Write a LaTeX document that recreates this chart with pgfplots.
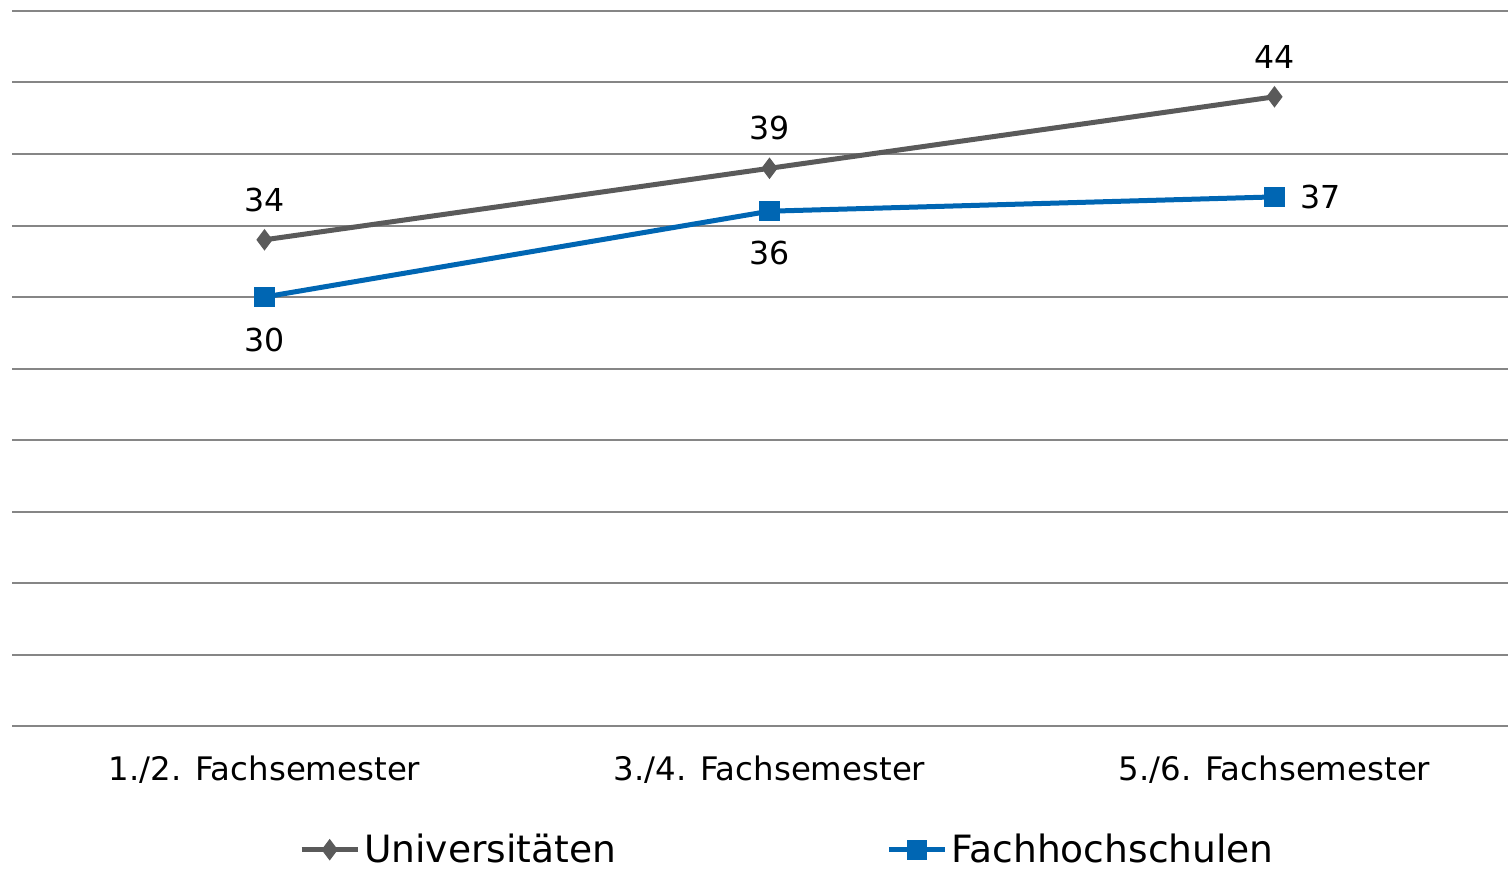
\documentclass[border=0pt]{standalone}
\usepackage{pgfplots}
\pgfplotsset{compat=1.18}
\usepackage{pgfplotstable}
\usepackage{fontspec}
\setmainfont{DejaVu Sans}
\definecolor{gridgray}{RGB}{134,134,134}
\definecolor{unigray}{RGB}{90,90,90}
\definecolor{fhblue}{RGB}{0,102,179}
\pgfplotstableread{
x y dx dy
0 34 0 20
1 39 0 20
2 44 0 20
}\uni
\pgfplotstableread{
x y dx dy
0 30 0 -21.5
1 36 0 -21
2 37 23 0
}\fh
\begin{document}
\begin{tikzpicture}
\begin{axis}[
  scale only axis,
  width=757.5pt, height=357.5pt,
  xmin=-0.5, xmax=2.5, ymin=0, ymax=50,
  axis line style={draw=none},
  xtick={0,1,2}, xticklabels={1./2. Fachsemester,3./4. Fachsemester,5./6. Fachsemester},
  extra x ticks={-0.5,0.5,1.5}, extra x tick labels={},
  extra x tick style={major tick length=5pt, tick style={gridgray, line width=1pt}, tick pos=bottom, tick align=outside},
  major x tick style={draw=none},
  ytick={0,5,...,50}, yticklabels={},
  major y tick style={draw=none},
  ymajorgrids, grid style={gridgray, line width=1pt},
  xticklabel style={font=\fontsize{16.2}{19}\selectfont, yshift=-11.5pt},
  legend style={at={(0.5125,-0.173)}, anchor=center, draw=none, fill=none,
    legend columns=2, font=\fontsize{18.8}{22}\selectfont,
    /tikz/every even column/.append style={column sep=133pt},
    inner sep=0pt},
  legend image code/.code={\draw[mark repeat=2,mark phase=2] plot coordinates {(0pt,0pt) (14pt,0pt) (28pt,0pt)};},
  nodes near coords,
  point meta=explicit symbolic,
  clip=false,
]
\addplot[unigray, line width=2.5pt, mark=diamond*, mark size=5pt, mark options={solid, line width=0.5pt},
  visualization depends on={\thisrow{dx}\as\dx},
  visualization depends on={\thisrow{dy}\as\dy},
  every node near coord/.style={anchor=center, inner sep=0pt, black, font=\fontsize{15.8}{18}\selectfont, xshift=\dx pt, yshift=\dy pt}
] table[x=x, y=y, meta=y] {\uni};
\addlegendentry{Universitäten}
\addplot[fhblue, line width=2.5pt, mark=square*, mark size=4.8pt, mark options={solid, line width=0.5pt},
  visualization depends on={\thisrow{dx}\as\dx},
  visualization depends on={\thisrow{dy}\as\dy},
  every node near coord/.style={anchor=center, inner sep=0pt, black, font=\fontsize{15.8}{18}\selectfont, xshift=\dx pt, yshift=\dy pt}
] table[x=x, y=y, meta=y] {\fh};
\addlegendentry{Fachhochschulen}
\end{axis}
\pgfresetboundingbox
\useasboundingbox ([xshift=-6pt, yshift=-71pt]current axis.south west) rectangle ([xshift=-9.5pt, yshift=5.5pt]current axis.north east);
\end{tikzpicture}
\end{document}
